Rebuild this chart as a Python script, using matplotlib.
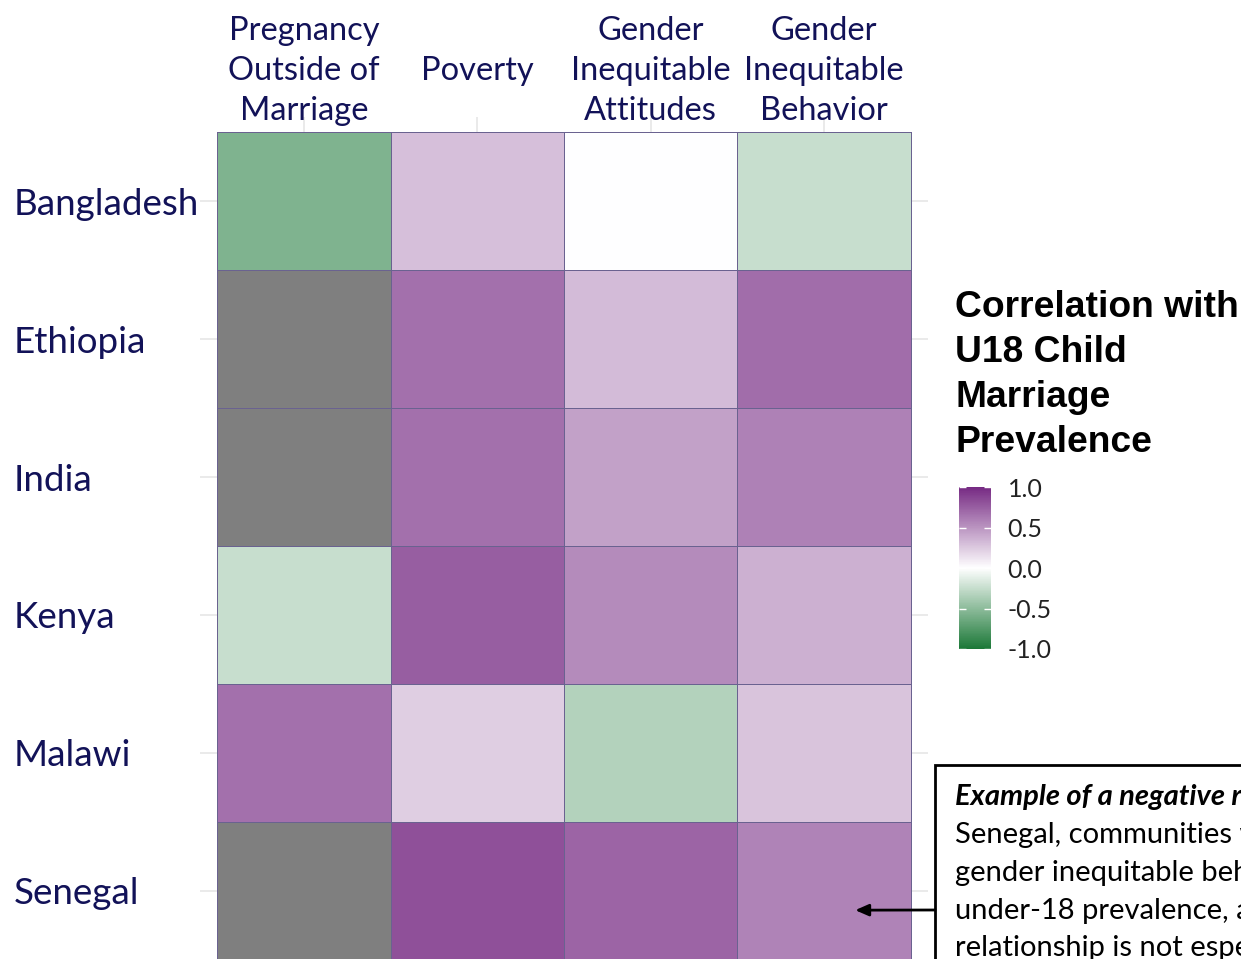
import numpy as np
import matplotlib
matplotlib.use("Agg")
import matplotlib.pyplot as plt
from matplotlib.colors import LinearSegmentedColormap
from matplotlib.patches import Rectangle

plt.rcParams['axes.unicode_minus'] = False

countries = ['Bangladesh', 'Ethiopia', 'India', 'Kenya', 'Malawi', 'Senegal']
factors = ['Pregnancy\nOutside of\nMarriage', 'Poverty',
           'Gender\nInequitable\nAttitudes', 'Gender\nInequitable\nBehavior']

# correlation with U18 child marriage prevalence (nan = no data, drawn grey)
pregnancy = [-0.56, np.nan, np.nan, -0.25, 0.67, np.nan]
poverty = [0.30, 0.67, 0.67, 0.75, 0.23, 0.82]
attitudes = [0.00, 0.32, 0.44, 0.54, -0.33, 0.72]
behavior = [-0.25, 0.68, 0.59, 0.37, 0.28, 0.58]

cbar_ticks = [-1.0, -0.5, 0.0, 0.5, 1.0]
legend_title = 'Correlation with\nU18 Child\nMarriage\nPrevalence'
note_head = 'Example of a negative relationship:'
note_body = ('Senegal, communities with\n'
             'gender inequitable behavior\n'
             'under-18 prevalence, and\n'
             'relationship is not especially')

navy = '#121258'
W, H = 1241, 959
fig = plt.figure(figsize=(W / 100, H / 100), dpi=100)

def fx(px):
    return px / W

def fy(py):
    return 1 - py / H

# panel spans a bit beyond the tiles (ggplot-style expansion)
ax = fig.add_axes([fx(200), fy(975), fx(928) - fx(200), fy(117) - fy(975)])

grid = np.array([pregnancy, poverty, attitudes, behavior]).T
cmap = LinearSegmentedColormap.from_list('prgn', ['#1B7837', '#FFFFFF', '#762A83'])
cmap.set_bad('#7F7F7F')

mesh = ax.pcolormesh(np.arange(len(factors) + 1) - 0.5,
                     np.arange(len(countries) + 1) - 0.5,
                     np.ma.masked_invalid(grid), cmap=cmap, vmin=-1, vmax=1,
                     edgecolors='#6A6290', linewidth=0.5, zorder=2)

ax.set_xlim(-0.6, len(factors) - 0.4)
ax.set_ylim(len(countries) - 0.39, -0.61)
ax.set_axisbelow(True)
ax.grid(True, color='#E6E6E6', linewidth=1.2, zorder=0)
for s in ax.spines.values():
    s.set_visible(False)

ax.xaxis.tick_top()
ax.set_xticks(range(len(factors)))
ax.set_xticklabels(factors, fontsize=23.5, color=navy, family='Lato',
                   va='center', linespacing=1.42)
ax.tick_params(axis='x', length=0, pad=33)

ax.set_yticks(range(len(countries)))
ax.set_yticklabels(countries, fontsize=26.5, color=navy, family='Lato',
                   ha='left', va='center_baseline')
ax.tick_params(axis='y', length=0, pad=134)

# colour bar legend
fig.text(fx(955), fy(290), legend_title, fontsize=26.8, fontweight='bold',
         family='Liberation Sans', va='top', ha='left', linespacing=1.37)
cax = fig.add_axes([fx(959), fy(649), fx(991) - fx(959), fy(487) - fy(649)])
cb = fig.colorbar(mesh, cax=cax, ticks=cbar_ticks)
cb.outline.set_visible(False)
cb.ax.set_yticklabels([f'{t:.1f}' for t in cbar_ticks])
cb.ax.tick_params(direction='in', color='white', length=5, width=1,
                  pad=12, labelsize=18, labelcolor='#222222', left=True)
for lab in cb.ax.get_yticklabels():
    lab.set_family('Lato')

# annotation box, running off the edge of the figure
fig.add_artist(Rectangle((fx(935), fy(1000)), fx(1400) - fx(935),
                         fy(765) - fy(1000), transform=fig.transFigure,
                         fill=False, edgecolor='black', linewidth=2))
fig.text(fx(955), fy(797), note_head, fontsize=21, family='Lato',
         fontweight='bold', style='italic', va='center', ha='left')
fig.text(fx(955), fy(822), note_body, fontsize=21, family='Lato',
         va='top', ha='left', linespacing=1.56)

ax.annotate('', xy=(3.18, 5.14), xycoords='data',
            xytext=(fx(935), fy(910)), textcoords='figure fraction',
            arrowprops=dict(arrowstyle='-|>,head_length=0.8,head_width=0.35',
                            color='black', lw=2, shrinkA=0, shrinkB=0),
            annotation_clip=False)

fig.savefig('out.png', dpi=100)
